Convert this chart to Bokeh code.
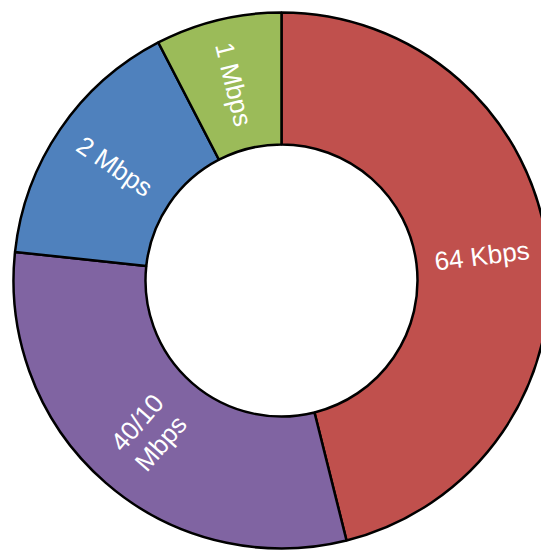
import numpy as np
from bokeh.plotting import figure
from bokeh.models import ColumnDataSource, Range1d
from bokeh.core.properties import value
from bokeh.embed import file_html
from bokeh.resources import INLINE

# Data (clockwise from 12 o'clock)
labels = ["64 Kbps", "40/10\nMbps", "2 Mbps", "1 Mbps"]
shares = [46.1, 30.6, 15.7, 7.6]
colors = ["#C0504D", "#8064A2", "#4F81BD", "#9BBB59"]

W, H = 541, 552
CX, CY = 281, H - 280
R_IN, R_OUT = 136, 268

vals = np.array(shares, dtype=float)
frac = vals / vals.sum()
cum = np.concatenate([[0.0], np.cumsum(frac)]) * 360.0  # clockwise from top, degrees
start = np.radians(90.0 - cum[:-1])
end = np.radians(90.0 - cum[1:])
mid_cw = (cum[:-1] + cum[1:]) / 2.0
phi = np.radians(90.0 - mid_cw)
R_MID = (R_IN + R_OUT) / 2.0
lx = CX + R_MID * np.cos(phi)
ly = CY + R_MID * np.sin(phi)
ang = []
for a in phi:
    a = np.arctan2(np.sin(a), np.cos(a))
    if np.cos(a) < 0:
        a = a + np.pi
    ang.append(a)

src = ColumnDataSource(dict(start=start, end=end, color=colors))
lsrc = ColumnDataSource(dict(x=lx, y=ly, text=labels, angle=ang))

p = figure(width=W, height=H, output_backend="svg", toolbar_location=None,
           x_range=Range1d(0, W), y_range=Range1d(0, H), min_border=0)
p.axis.visible = False
p.grid.visible = False
p.outline_line_color = None
p.background_fill_color = "white"
p.border_fill_color = "white"

p.annular_wedge(x=CX, y=CY, inner_radius=R_IN, outer_radius=R_OUT,
                start_angle="start", end_angle="end", direction="clock",
                fill_color="color", line_color="black", line_width=2.5, source=src)

p.text(x="x", y="y", text="text", angle="angle", source=lsrc,
       text_color="white", text_font=value("Liberation Sans"),
       text_font_size="26px", text_align="center", text_baseline="middle",
       text_line_height=1.05)

open("out.html", "w").write(file_html(p, INLINE))
